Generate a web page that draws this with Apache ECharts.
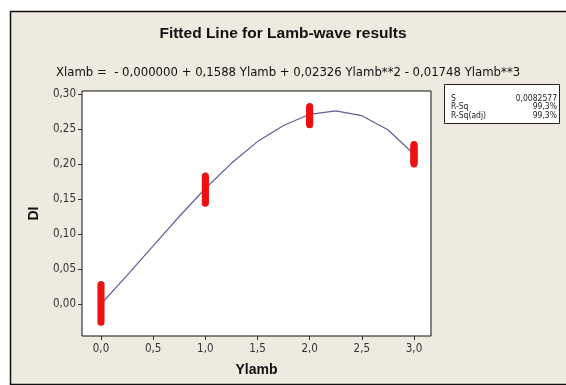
<!DOCTYPE html>
<html><head><meta charset="utf-8">
<script src="https://cdn.jsdelivr.net/npm/echarts@6/dist/echarts.min.js"></script>
<style>html,body{margin:0;padding:0;background:#fff}#c{width:566px;height:385px}</style>
</head><body><div id="c"></div>
<script>
const title = 'Fitted Line for Lamb-wave results';
const equation = 'Xlamb =  - 0,000000 + 0,1588 Ylamb + 0,02326 Ylamb**2 - 0,01748 Ylamb**3';
const xTicks = [0, 0.5, 1, 1.5, 2, 2.5, 3];
const yTicks = [0, 0.05, 0.10, 0.15, 0.20, 0.25, 0.30];
const ptX = [0, 1, 2, 3];
const ptY = [
  [-0.026, -0.023, -0.020, -0.017, -0.014, -0.011, -0.008, -0.005, -0.002, 0.001, 0.004, 0.007, 0.010, 0.013, 0.016, 0.019, 0.022, 0.025, 0.028],
  [0.144, 0.146, 0.148, 0.151, 0.153, 0.155, 0.157, 0.160, 0.162, 0.164, 0.166, 0.168, 0.170, 0.173, 0.175, 0.177, 0.179, 0.181, 0.183],
  [0.256, 0.258, 0.259, 0.261, 0.262, 0.264, 0.265, 0.267, 0.268, 0.270, 0.271, 0.273, 0.274, 0.276, 0.277, 0.279, 0.280, 0.282],
  [0.200, 0.202, 0.203, 0.205, 0.206, 0.208, 0.209, 0.211, 0.212, 0.214, 0.215, 0.217, 0.218, 0.220, 0.221, 0.223, 0.224, 0.226, 0.228]
];
const fitX = [0, 0.25, 0.5, 0.75, 1.0, 1.25, 1.5, 1.75, 2.0, 2.25, 2.5, 2.75, 3.0];
const fitY = [0.000, 0.041, 0.083, 0.125, 0.165, 0.201, 0.232, 0.255, 0.271, 0.276, 0.269, 0.249, 0.214];
const statLabels = ['S', 'R-Sq', 'R-Sq(adj)'];
const statValues = ['0,0082577', '99,3%', '99,3%'];

const fmt = (v, d) => v.toFixed(d).replace('.', ',');
const scatterData = [];
ptX.forEach((x, i) => ptY[i].forEach(y => scatterData.push([x, y])));
const fitData = fitX.map((x, i) => [x, fitY[i]]);

const chart = echarts.init(document.getElementById('c'));
const statGraphics = [];
statLabels.forEach((l, i) => {
  statGraphics.push({type:'text', left:451, top:94 + i*8.5, style:{text:l, font:'8.5px "DejaVu Sans Condensed"', fill:'#222'}});
  statGraphics.push({type:'text', right:9, top:94 + i*8.5, style:{text:statValues[i], font:'8.5px "DejaVu Sans Condensed"', fill:'#222', align:'right'}});
});
chart.setOption({
  animation: false,
  backgroundColor: '#ffffff',
  graphic: [
    {type:'rect', z:-10, shape:{x:10.5, y:11.5, width:570, height:373}, style:{fill:'#eeeae0', stroke:'#111', lineWidth:1.5}},
    {type:'text', left:'center', top:26, style:{text:title, font:'bold 15.5px "Liberation Sans"', fill:'#111'}},
    {type:'text', left:56, top:66, style:{text:equation, font:'13px "DejaVu Sans Condensed"', fill:'#111'}},
    {type:'rect', shape:{x:444.5, y:84.5, width:115, height:39}, style:{fill:'#fff', stroke:'#222', lineWidth:1}},
    ...statGraphics
  ],
  grid: {left:82, top:91, width:349, height:245, show:true, backgroundColor:'#fff', borderColor:'#111', borderWidth:1},
  xAxis: {
    type:'value', min:-0.182, max:3.163,
    name:'Ylamb', nameLocation:'middle', nameGap:27,
    nameTextStyle:{fontFamily:'Liberation Sans', fontWeight:'bold', fontSize:14, color:'#111'},
    axisLine:{show:false, onZero:false}, splitLine:{show:false},
    axisTick:{show:true, length:4, lineStyle:{color:'#333'}, customValues:xTicks},
    axisLabel:{fontFamily:'DejaVu Sans Condensed', fontSize:11.5, color:'#333', margin:7, customValues:xTicks, formatter:v=>fmt(v,1)}
  },
  yAxis: {
    type:'value', min:-0.0457, max:0.3043,
    name:'DI', nameLocation:'middle', nameGap:41, nameRotate:90,
    nameTextStyle:{fontFamily:'Liberation Sans', fontWeight:'bold', fontSize:14, color:'#111'},
    axisLine:{show:false, onZero:false}, splitLine:{show:false},
    axisTick:{show:true, length:4, lineStyle:{color:'#333'}, customValues:yTicks},
    axisLabel:{fontFamily:'DejaVu Sans Condensed', fontSize:11.5, color:'#333', margin:6, customValues:yTicks, formatter:v=>fmt(v,2)}
  },
  series: [
    {type:'line', data:fitData, showSymbol:false, smooth:false, lineStyle:{color:'#5f5f98', width:1.2}, z:2},
    {type:'scatter', data:scatterData, symbolSize:7, itemStyle:{color:'#ee1111', opacity:1, borderWidth:0}, emphasis:{disabled:true}, z:3}
  ]
});
</script></body></html>
